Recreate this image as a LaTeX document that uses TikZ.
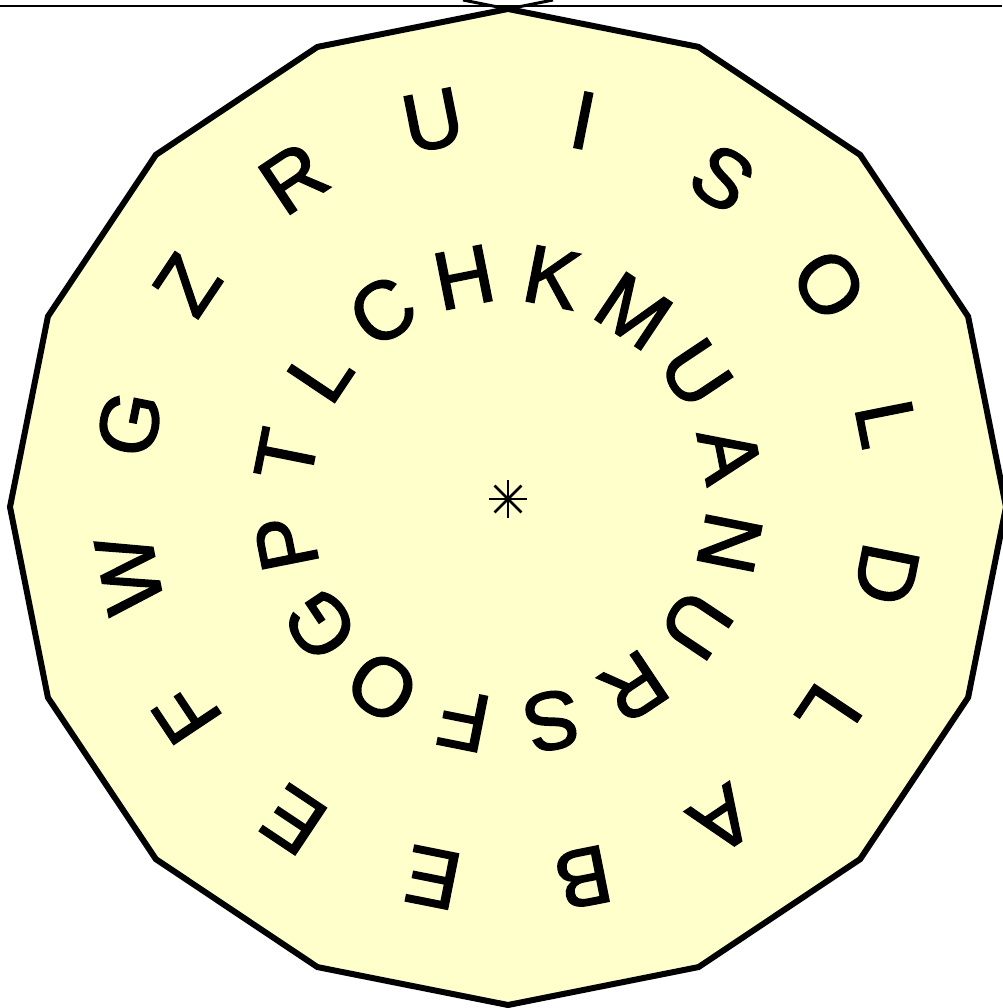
\documentclass[tikz,border=0pt]{standalone}
\usepackage{fontspec}
\setmainfont{Liberation Sans}
\newfontfamily\ringfont[FakeBold=2]{Liberation Sans}
\definecolor{paleyellow}{HTML}{FFFFCC}
\tikzset{
  rim/.style={draw=black, line width=6pt, line join=miter, fill=paleyellow},
  letter/.style={inner sep=0pt, font=\ringfont\fontsize{82}{96}\selectfont},
  thinline/.style={line width=1.8pt},
  starline/.style={line width=2.8pt},
}
\begin{document}
\begin{tikzpicture}[x=1pt,y=1pt]
\useasboundingbox (0,0) rectangle (1002,1008);
\coordinate (P) at (508,501);
\coordinate (C) at (508,509);
% top rule
\coordinate (tl) at (0,1002);
\coordinate (tr) at (1002,1002);
\draw[thinline] (tl) -- (tr);
% overshooting edges at top vertex
\coordinate (V) at (508,999);
\draw[line width=3pt] (V) -- ++(-45,9);
\draw[line width=3pt] (V) -- ++(45,9);
% polygon
\draw[rim, shift={(P)}] (90:498) \foreach \k in {1,...,15} { -- ({90+22.5*\k}:498) } -- cycle;
% centre asterisk
\foreach \a in {0,45,90,135} {
  \draw[starline] ([shift={(\a:19)}]C) -- ([shift={(\a+180:19)}]C);
}
% outer ring
\foreach \t [count=\i from 0] in {U,I,S,O,L,D,L,A,B,E,E,F,W,G,Z,R} {
  \pgfmathsetmacro\ang{101.25-22.5*\i}
  \node[letter, rotate=\ang-90] (o\i) at ([shift={(\ang:386)}]C) {\t};
}
% inner ring
\foreach \t [count=\i from 0] in {H,K,M,U,A,N,U,R,S,F,O,G,P,T,L,C} {
  \pgfmathsetmacro\ang{101.25-22.5*\i}
  \node[letter, rotate=\ang-90] (n\i) at ([shift={(\ang:226)}]C) {\t};
}
\end{tikzpicture}
\end{document}
